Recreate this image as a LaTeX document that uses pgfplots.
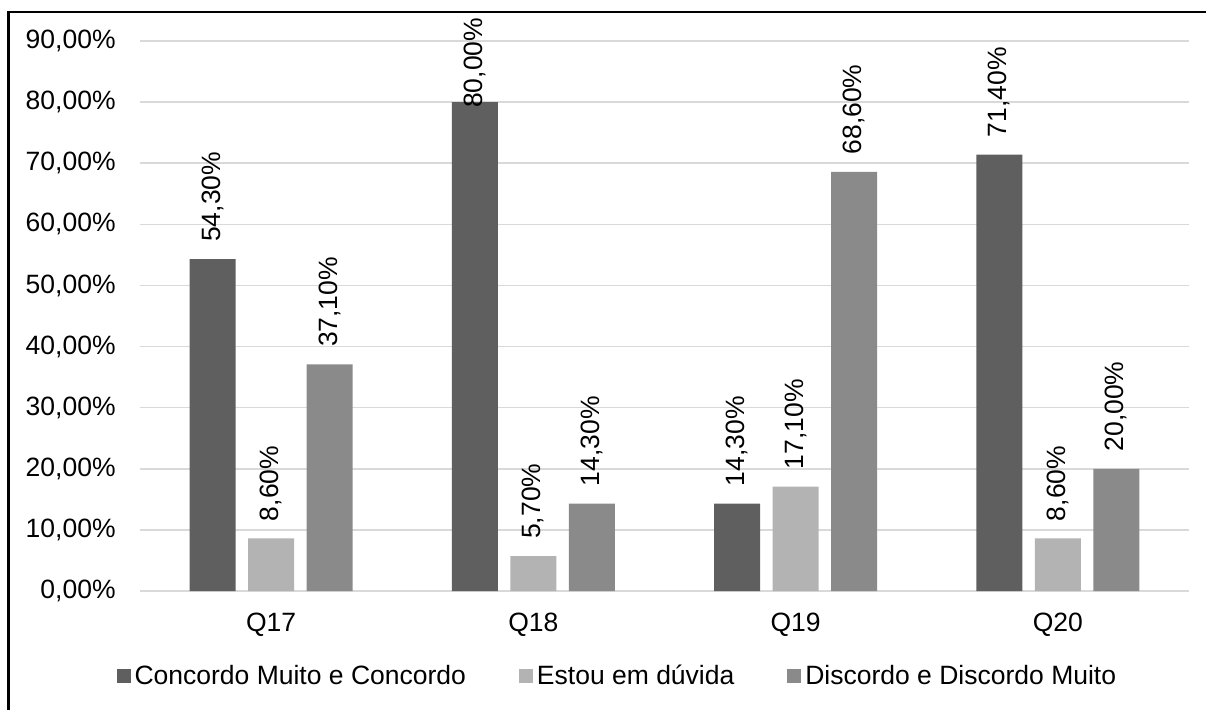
\documentclass[border=0pt]{standalone}
\usepackage{fontspec}
\setmainfont{Liberation Sans}
\usepackage{pgfplots}
\pgfplotsset{compat=1.18}
\definecolor{cA}{HTML}{5F5F5F}
\definecolor{cB}{HTML}{B3B3B3}
\definecolor{cC}{HTML}{8A8A8A}
\definecolor{gridc}{HTML}{D9D9D9}
\newcommand\ff{\fontsize{13.25pt}{15.9pt}\selectfont}
\begin{document}
\begin{tikzpicture}
\useasboundingbox (0,0) rectangle (603pt,354.5pt);
\draw[line width=1.25pt] (4.3pt,-5pt) -- (4.3pt,348.4pt) -- (610pt,348.4pt);
\begin{axis}[
 at={(70pt,59pt)}, anchor=south west,
 width=524.5pt, height=275pt, scale only axis,
 ybar=6.25pt, bar width=23pt,
 xmin=-0.5, xmax=3.5, ymin=0, ymax=90,
 xtick={0,1,2,3}, xticklabels={Q17,Q18,Q19,Q20},
 ytick={0,10,...,90},
 /pgf/number format/assume math mode=true,
 yticklabel={\pgfmathprintnumber[fixed,zerofill,precision=2,use comma]{\tick}\%},
 ymajorgrids, grid style={gridc, line width=0.75pt},
 axis line style={draw=none},
 major tick length=0pt,
 tick label style={font=\ff, black},
 yticklabel style={anchor=east, inner sep=0pt, xshift=-12pt},
 xticklabel style={anchor=base, inner sep=0pt, yshift=-20pt},
 clip=false,
 nodes near coords={\pgfmathprintnumber[fixed,zerofill,precision=2,use comma]{\pgfplotspointmeta}\%},
 every node near coord/.append style={font=\ff, black, rotate=90, anchor=west, inner xsep=8.5pt, inner ysep=0pt},
 legend columns=3,
 legend style={at={(0.456,-0.1545)}, anchor=center, draw=none, font=\ff, inner sep=0pt, /tikz/every even column/.append style={column sep=24.5pt}},
 legend image code/.code={\fill[#1] (0pt,-3.5pt) rectangle (7pt,3.5pt);},
]
\addplot[fill=cA, draw=none, coordinate style/.condition={y>75}{yshift=-11.5pt}] coordinates {(0,54.3) (1,80.0) (2,14.3) (3,71.4)};
\addplot[fill=cB, draw=none] coordinates {(0,8.6) (1,5.7) (2,17.1) (3,8.6)};
\addplot[fill=cC, draw=none] coordinates {(0,37.1) (1,14.3) (2,68.6) (3,20.0)};
\legend{Concordo Muito e Concordo, Estou em dúvida, Discordo e Discordo Muito}
\end{axis}
\end{tikzpicture}
\end{document}
